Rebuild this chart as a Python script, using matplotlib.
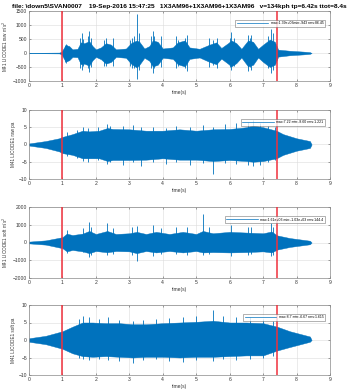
import numpy as np
import matplotlib
matplotlib.use("Agg")
import matplotlib.pyplot as plt

plt.rcParams["font.family"] = ["Liberation Sans", "DejaVu Sans"]

TITLE = ("file: \\down5\\SVAN0007    19-Sep-2016 15:47:25   1X3AM96+1X3AM96+1X3AM96   "
         "v=134kph tp=6.42s ttot=8.4s")

# channel labels, axis limits, ticks and summary statistics
ylabels = ["M41 LICODE1 raw m/s$^2$", "M41 LICODE1 raw pa",
           "M41 LICODE1 soft m/s$^2$", "M41 LICODE1 soft pa"]
ylims = [(-1000, 1500), (-10, 10), (-2000, 2000), (-10, 10)]
yticks = [[-1000, -500, 0, 500, 1000, 1500], [-10, -5, 0, 5, 10],
          [-2000, -1000, 0, 1000, 2000], [-10, -5, 0, 5, 10]]
stats = ["max:1.39e+03min:-943 rms:86.45",
         "max:7.22 min:-8.60 rms:1.221",
         "max:1.61e+03 min:-1.03e+03 rms:144.4",
         "max:8.7 min:-6.67 rms:1.615"]
markers = [1.0, 7.42]   # train entry / exit times (s)

# core signal envelopes: breakpoint times, upper and lower bounds
t1 = [0.0, 0.9, 0.97, 1.05, 1.1, 1.2, 1.3, 1.45, 1.55, 1.65, 1.8, 1.9, 2.0, 2.15, 2.3,
      2.45, 2.6, 2.9, 3.05, 3.22, 3.3, 3.45, 3.6, 3.7, 3.85, 4.0, 4.3, 4.45, 4.66, 4.8,
      5.1, 5.4, 5.6, 5.75, 5.95, 6.05, 6.2, 6.35, 6.55, 6.7, 6.85, 7.0, 7.2, 7.35, 7.45,
      7.8, 8.2, 8.4, 8.45]
up1 = [5, 15, 40, 200, 280, 250, 130, 150, 380, 350, 420, 250, 130, 200, 350,
       300, 130, 160, 350, 450, 400, 160, 250, 450, 400, 160, 200, 380, 450, 200,
       150, 300, 380, 180, 350, 450, 350, 150, 450, 400, 150, 300, 480, 400, 120,
       80, 50, 30, 0]
lo1 = [-5, -15, -40, -220, -300, -260, -140, -150, -400, -380, -450, -260, -140, -220, -380,
       -320, -140, -170, -380, -520, -420, -170, -280, -480, -420, -170, -210, -400, -480, -210,
       -160, -320, -400, -200, -380, -480, -360, -160, -480, -420, -160, -320, -500, -420, -130,
       -80, -50, -30, 0]
# isolated peaks: time, positive and negative extreme
s1t = [1.08, 1.1, 1.15, 1.52, 1.57, 1.62, 1.75, 1.8, 1.86, 2.25, 2.3, 2.5, 3.02, 3.07,
       3.15, 3.22, 3.3, 3.65, 3.7, 3.75, 3.96, 4.41, 4.46, 4.66, 4.71, 5.38, 5.5, 5.62,
       6.0, 6.05, 6.12, 6.55, 6.6, 6.63, 7.15, 7.24, 7.3]
s1u = [300, 320, 280, 550, 700, 500, 600, 785, 550, 480, 550, 550, 450, 550,
       600, 1390, 700, 600, 800, 600, 600, 600, 480, 550, 650, 550, 450, 550,
       550, 750, 550, 650, 520, 650, 600, 850, 700]
s1l = [-320, -350, -300, -520, -600, -480, -550, -680, -500, -450, -480, -450, -450, -520,
       -550, -943, -600, -550, -700, -550, -500, -520, -450, -550, -650, -500, -420, -550,
       -500, -600, -480, -650, -500, -600, -550, -700, -620]

t2 = [0.0, 0.5, 0.9, 1.0, 1.3, 1.6, 1.8, 2.1, 2.35, 2.5, 3.0, 3.5, 4.0, 4.5, 5.0,
      5.5, 6.0, 6.5, 6.7, 7.0, 7.4, 7.6, 8.0, 8.4, 8.45]
up2 = [0.3, 1.0, 1.8, 2.2, 3.0, 4.0, 3.8, 4.0, 4.8, 4.5, 4.4, 4.0, 4.0, 4.4, 4.0,
       4.4, 4.5, 5.0, 5.5, 5.0, 4.0, 3.0, 1.8, 1.0, 0]
lo2 = [-0.3, -1.0, -2.0, -2.5, -3.0, -4.0, -4.0, -4.0, -4.8, -4.5, -4.5, -4.4, -4.0, -4.4, -4.4,
       -4.8, -4.5, -4.8, -5.0, -4.8, -4.0, -3.0, -1.8, -1.0, 0]
s2t = [1.15, 1.45, 1.62, 1.75, 2.05, 2.33, 2.42, 2.8, 3.1, 3.35, 3.7, 4.1, 4.4, 4.8,
       5.2, 5.5, 5.85, 6.2, 6.55, 6.7, 6.9, 7.15, 7.35]
s2u = [3.5, 4.2, 5.2, 4.8, 5.0, 6.0, 5.5, 5.3, 5.6, 5.0, 5.2, 4.8, 5.5, 5.0,
       5.6, 5.2, 5.8, 6.1, 6.4, 7.22, 6.3, 5.5, 5.2]
s2l = [-3.2, -4.0, -4.8, -5.2, -4.6, -5.6, -5.2, -5.8, -5.2, -6.2, -5.0, -5.6, -5.1, -5.8,
       -5.4, -8.6, -5.5, -5.6, -6.0, -6.3, -5.8, -5.0, -4.6]

t3 = [0.0, 0.5, 1.0, 1.13, 1.3, 1.6, 1.8, 2.0, 2.34, 2.6, 3.0, 3.22, 3.5, 3.8, 4.2,
      4.6, 5.0, 5.2, 5.5, 6.0, 6.5, 7.0, 7.25, 7.42, 7.8, 8.4, 8.45]
up3 = [50, 120, 300, 500, 420, 500, 650, 480, 650, 480, 520, 600, 480, 600, 480,
       600, 480, 650, 520, 600, 560, 520, 620, 400, 250, 100, 0]
lo3 = [-50, -120, -320, -500, -420, -500, -600, -480, -550, -480, -500, -600, -480, -560, -480,
       -560, -480, -560, -540, -560, -540, -500, -560, -400, -250, -100, 0]
s3t = [1.13, 1.6, 1.8, 1.86, 2.34, 2.5, 3.07, 3.22, 3.7, 3.96, 4.41, 4.71, 5.2, 5.38,
       6.05, 6.55, 6.63, 7.25, 7.3]
s3u = [700, 800, 1150, 900, 1100, 800, 850, 950, 1000, 800, 850, 900, 1610, 850,
       1000, 900, 850, 1100, 900]
s3l = [-600, -550, -800, -700, -700, -650, -700, -1030, -750, -650, -650, -700, -700, -650,
       -750, -700, -650, -750, -700]

t4 = [0.0, 0.5, 1.0, 1.3, 1.6, 1.9, 2.3, 2.7, 3.1, 3.5, 4.0, 4.5, 5.0, 5.5, 6.0,
      6.5, 7.0, 7.42, 7.8, 8.4, 8.45]
up4 = [0.5, 1.2, 2.5, 3.8, 5.0, 5.0, 4.8, 4.8, 4.5, 4.5, 4.8, 5.0, 5.2, 5.5, 5.0,
       5.0, 4.8, 3.8, 2.5, 1.0, 0]
lo4 = [-0.5, -1.2, -2.5, -3.8, -4.6, -4.8, -4.6, -4.8, -5.0, -4.8, -4.8, -5.0, -4.8, -4.8, -4.6,
       -4.4, -4.4, -3.0, -2.0, -0.5, 0]
s4t = [1.5, 1.62, 1.8, 2.1, 2.35, 2.7, 3.1, 3.4, 3.8, 4.2, 4.6, 5.0, 5.5, 5.8,
       6.2, 6.6, 7.0, 7.3]
s4u = [6.0, 6.8, 6.5, 6.0, 6.5, 5.8, 5.5, 5.8, 6.0, 6.2, 6.6, 7.0, 8.7, 7.0,
       6.5, 6.6, 6.0, 5.5]
s4l = [-5.0, -5.5, -5.8, -5.3, -5.6, -6.0, -6.67, -5.8, -5.5, -6.0, -6.2, -5.8, -6.0, -5.5,
       -5.6, -5.3, -5.2, -4.5]

channels = [(t1, up1, lo1, s1t, s1u, s1l), (t2, up2, lo2, s2t, s2u, s2l),
            (t3, up3, lo3, s3t, s3u, s3l), (t4, up4, lo4, s4t, s4u, s4l)]

BLUE = "#0072BD"
RED = "#F0303C"
fs = 3.6

fig = plt.figure(figsize=(3.47, 3.90), dpi=100)
W, H = 347.0, 390.0
boxes = [(11, 81), (110, 179), (207, 278), (305, 375)]
for i, (top, bot) in enumerate(boxes):
    ax = fig.add_axes([29 / W, 1 - bot / H, 301 / W, (bot - top) / H])
    t, up, lo, st, su, sl = channels[i]
    ax.fill_between(t, lo, up, color=BLUE, linewidth=0.3, edgecolor=BLUE, zorder=2)
    ax.vlines(st, sl, su, color=BLUE, lw=0.6, zorder=2)
    ax.plot([], [], color=BLUE, lw=0.5, label=stats[i])
    for m in markers:
        ax.axvline(m, color=RED, lw=1.1, zorder=3)
    ax.set_xlim(0, 9)
    ax.set_ylim(*ylims[i])
    ax.set_xticks(range(10))
    ax.set_yticks(yticks[i])
    ax.grid(True, color="#dcdcdc", lw=0.4)
    ax.set_axisbelow(True)
    ax.tick_params(labelsize=fs, length=1.5, width=0.4, color="#555555",
                   labelcolor="#333333", pad=1.5, direction="in", top=True, right=True)
    for s in ax.spines.values():
        s.set_color("#888888")
        s.set_linewidth(0.5)
    ax.set_xlabel("time(s)", fontsize=fs, labelpad=1.5, color="#333333")
    ax.set_ylabel(ylabels[i], fontsize=3.3, labelpad=2, color="#333333")
    leg = ax.legend(loc="upper right", fontsize=2.5, handlelength=9, frameon=True,
                    fancybox=False, borderpad=0.5, bbox_to_anchor=(0.99, 0.9))
    leg.get_frame().set_linewidth(0.4)
    leg.get_frame().set_edgecolor("#555555")
    if i == 0:
        ttl = ax.set_title(TITLE, fontsize=5.0, fontweight="bold", pad=2.5)
        fig.canvas.draw()
        wpx = ttl.get_window_extent().width
        ttl.set_fontsize(5.0 * 336.0 / wpx)

fig.savefig("out.png", dpi=100)
